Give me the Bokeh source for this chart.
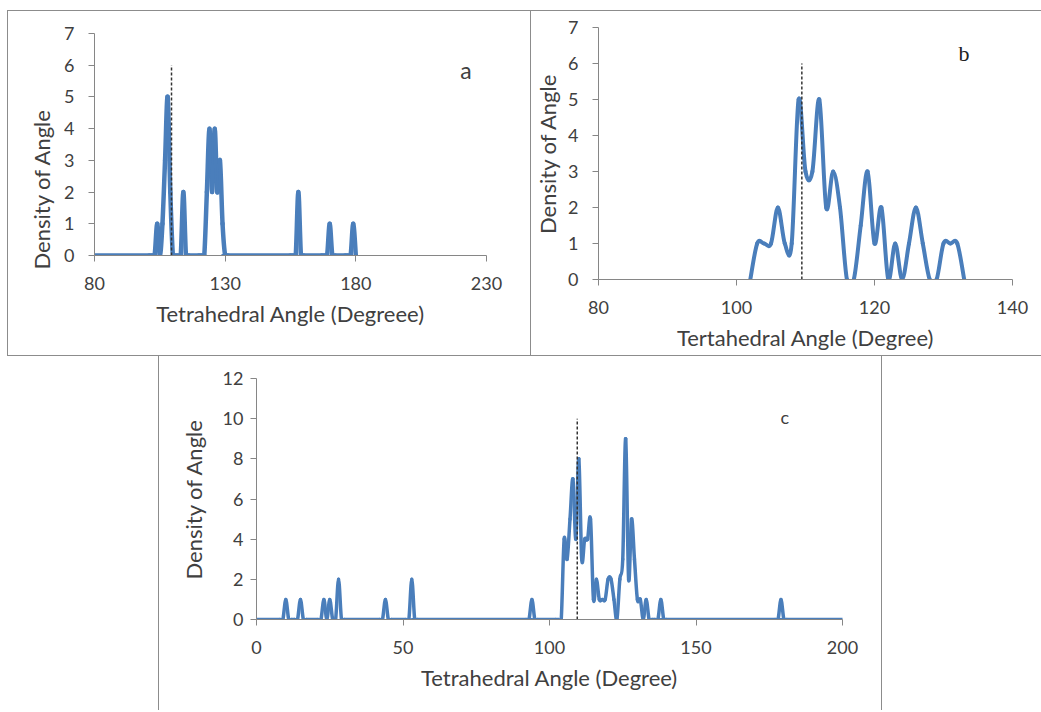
import numpy as np
from bokeh.plotting import figure
from bokeh.models import Range1d, FixedTicker, Label, Title, Spacer
from bokeh.layouts import column, row
from bokeh.embed import file_html
from bokeh.resources import INLINE

# ---------------- data ----------------
# panel a
angle_a = [80, 101, 102, 103, 104, 105, 106, 107, 108, 109, 110, 111, 112, 113, 114, 115, 116,
           120, 121, 122, 123, 124, 125, 126, 127, 128, 129, 130, 131,
           155, 156, 157, 158, 159, 160, 167, 168, 169, 170, 171, 172, 176, 177, 178, 179, 180]
density_a = [0, 0, 0, 0, 1, 0, 1, 3, 5, 2, 0, 0, 0, 0, 2, 0, 0,
             0, 0, 0, 2, 4, 2, 4, 2, 3, 1, 0, 0,
             0, 0, 0, 2, 0, 0, 0, 0, 0, 1, 0, 0, 0, 0, 0, 1, 0]

# panel b
angle_b = [102, 103, 104, 105, 106, 107, 108, 109, 110, 111, 112, 113, 114, 115, 116, 117,
           118, 119, 120, 121, 122, 123, 124, 125, 126, 127, 128, 129, 130, 131, 132, 133]
density_b = [0, 1, 1, 1, 2, 1, 1, 5, 3, 3, 5, 2, 3, 2, 0, 0,
             1.5, 3, 1, 2, 0, 1, 0, 1, 2, 1, 0, 0, 1, 1, 1, 0]

# panel c
angle_c = [0, 8, 9, 10, 11, 12, 13, 14, 15, 16, 17,
           21, 22, 23, 24, 25, 26, 27, 28, 29, 30,
           42, 43, 44, 45, 46, 51, 52, 53, 54, 55, 92, 93, 94, 95, 96,
           102, 103, 104, 105, 106, 107, 108, 109, 110, 111, 112, 113, 114, 115, 116, 117, 118, 119, 120,
           121, 122, 123, 124, 125, 126, 127, 128, 129, 130, 131, 132, 133, 134, 135, 136, 137, 138, 139, 140,
           177, 178, 179, 180, 181, 200]
density_c = [0, 0, 0, 1, 0, 0, 0, 0, 1, 0, 0,
             0, 0, 1, 0, 1, 0, 0, 2, 0, 0,
             0, 0, 1, 0, 0, 0, 0, 2, 0, 0, 0, 0, 1, 0, 0,
             0, 0, 0, 4, 3, 5, 7, 4, 8, 3, 4, 4, 5, 1, 2, 1, 1, 1, 2,
             2, 1, 0, 2, 3, 9, 2, 5, 3, 1, 1, 0, 1, 0, 0, 0, 0, 1, 0, 0,
             0, 0, 1, 0, 0, 0]

tetra_angle = 109.47
marker_top = [6, 6, 10]

ticks_x_a = [80, 130, 180, 230]
ticks_x_b = [80, 100, 120, 140]
ticks_x_c = [0, 50, 100, 150, 200]
ticks_y_ab = [0, 1, 2, 3, 4, 5, 6, 7]
ticks_y_c = [0, 2, 4, 6, 8, 10, 12]

# ---------------- styling ----------------
BLUE = "#4a7ebb"
AXIS = "#868686"
TEXT = "#404040"
BORDER = "#8c8c8c"
FONT = "Lato"


def smooth_line(p, xs, ys, width):
    xs = np.asarray(xs, float)
    ys = np.asarray(ys, float)
    xp = np.concatenate([[xs[0]], xs, [xs[-1]]])
    yp = np.concatenate([[ys[0]], ys, [ys[-1]]])
    cx0 = xp[1:-2] + (xp[2:-1] - xp[0:-3]) / 6.0
    cy0 = yp[1:-2] + (yp[2:-1] - yp[0:-3]) / 6.0
    cx1 = xp[2:-1] - (xp[3:] - xp[1:-2]) / 6.0
    cy1 = yp[2:-1] - (yp[3:] - yp[1:-2]) / 6.0
    p.bezier(x0=xs[:-1], y0=ys[:-1], x1=xs[1:], y1=ys[1:],
             cx0=cx0, cy0=cy0, cx1=cx1, cy1=cy1,
             line_color=BLUE, line_width=width, line_cap="round", line_join="round")


def make_fig(w, h, xr, yr, xt, yt, mb, xlabel, ylabel, ystand, ylstand):
    p = figure(width=w, height=h, x_range=Range1d(*xr), y_range=Range1d(*yr),
               output_backend="svg", toolbar_location=None,
               min_border_left=mb[0], min_border_right=mb[1],
               min_border_top=mb[2], min_border_bottom=mb[3])
    p.grid.visible = False
    p.outline_line_color = None
    p.background_fill_color = "white"
    p.border_fill_color = "white"
    p.xaxis.ticker = FixedTicker(ticks=xt)
    p.yaxis.ticker = FixedTicker(ticks=yt)
    for ax in (p.xaxis[0], p.yaxis[0]):
        ax.axis_line_color = AXIS
        ax.major_tick_line_color = AXIS
        ax.minor_tick_line_color = None
        ax.major_tick_in = 0
        ax.major_tick_out = 6
        ax.major_label_text_font = FONT
        ax.major_label_text_font_size = "18px"
        ax.major_label_text_color = TEXT
        ax.axis_label_text_font = FONT
        ax.axis_label_text_font_size = "22px"
        ax.axis_label_text_font_style = "normal"
        ax.axis_label_text_color = TEXT
    p.xaxis.axis_label = xlabel
    p.xaxis.major_label_standoff = 15
    p.xaxis.axis_label_standoff = 7
    p.yaxis.major_label_standoff = ystand
    if ylabel:
        p.yaxis.axis_label = ylabel
        p.yaxis.axis_label_standoff = ylstand
    return p


def hline(w):
    return Spacer(width=w, height=1, styles={"background-color": BORDER})


def vline(h):
    return Spacer(width=1, height=h, styles={"background-color": BORDER})


# ---------------- panel a ----------------
pa = make_fig(522, 344, (80, 230), (0, 7), ticks_x_a, ticks_y_ab, (86, 44, 22, 100),
              "Tetrahedral Angle (Degreee)", None, 14, 0)
smooth_line(pa, angle_a, density_a, 4.5)
pa.segment(x0=[tetra_angle], y0=[0], x1=[tetra_angle], y1=[marker_top[0]],
           line_color="#333333", line_width=1.5, line_dash="3 2")
pa.add_layout(Title(text="Density of Angle", align="left", offset=-14, standoff=13,
                    text_font=FONT, text_font_size="22px", text_font_style="normal",
                    text_color=TEXT), "left")
pa.add_layout(Label(x=222.1, y=5.85, text="a", text_align="center", text_baseline="alphabetic",
                    text_font=FONT, text_font_size="23px", text_color=TEXT))

# ---------------- panel b ----------------
pb = make_fig(510, 344, (80, 140), (0, 7), ticks_x_b, ticks_y_ab, (64, 29, 16, 76),
              "Tertahedral Angle (Degree)", "Density of Angle", 14, 4)
smooth_line(pb, angle_b, density_b, 4)
pb.segment(x0=[tetra_angle], y0=[0], x1=[tetra_angle], y1=[marker_top[1]],
           line_color="#333333", line_width=1.5, line_dash="3 2")
pb.add_layout(Label(x=132.96, y=6.28, text="b", text_align="center", text_baseline="alphabetic",
                    text_font="Liberation Serif", text_font_size="22px", text_color="#222222"))

# ---------------- panel c ----------------
pc = make_fig(722, 354, (0, 200), (0, 12), ticks_x_c, ticks_y_c, (97, 39, 22, 91),
              "Tetrahedral Angle (Degree)", "Density of Angle", 7, 13)
smooth_line(pc, angle_c, density_c, 3.5)
pc.segment(x0=[tetra_angle], y0=[0], x1=[tetra_angle], y1=[marker_top[2]],
           line_color="#333333", line_width=1.5, line_dash="3 2")
pc.add_layout(Label(x=180.3, y=10.08, text="c", text_align="center", text_baseline="alphabetic",
                    text_font=FONT, text_font_size="18px", text_color=TEXT))

layout = column(
    Spacer(width=1041, height=10),
    row(Spacer(width=7, height=1), hline(1034), spacing=0),
    row(Spacer(width=7, height=344), vline(344), column(pa, spacing=0), vline(344),
        column(pb, spacing=0), spacing=0),
    row(Spacer(width=7, height=1), hline(1034), spacing=0),
    row(Spacer(width=158, height=354), vline(354), pc, vline(354), spacing=0),
    spacing=0)
open("out.html", "w").write(file_html(layout, INLINE))
